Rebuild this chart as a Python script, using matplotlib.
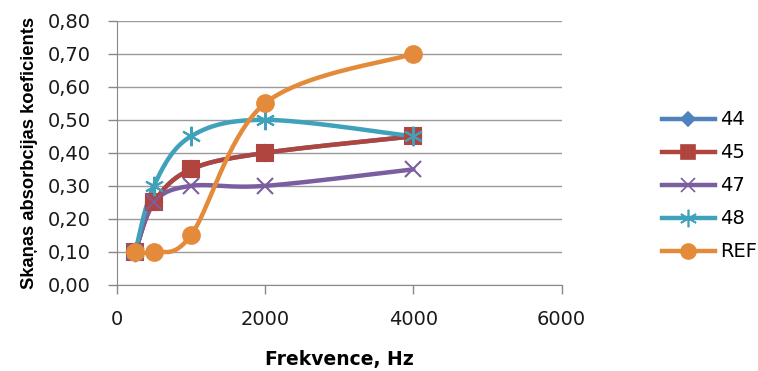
import numpy as np
import matplotlib
matplotlib.use('Agg')
import matplotlib.pyplot as plt

plt.rcParams['font.family'] = ['DejaVu Sans']

freq = [250, 500, 1000, 2000, 4000]
s44 = [0.10, 0.25, 0.35, 0.40, 0.45]
s45 = [0.10, 0.25, 0.35, 0.40, 0.45]
s47 = [0.10, 0.25, 0.30, 0.30, 0.35]
s48 = [0.10, 0.30, 0.45, 0.50, 0.45]
ref = [0.10, 0.10, 0.15, 0.55, 0.70]

yticks = np.arange(0, 0.81, 0.1)
xticks = [0, 2000, 4000, 6000]


def smooth(x, y, n=40):
    # Excel-like smoothed line: cubic bezier with catmull-rom control points
    x = np.asarray(x, float)
    y = np.asarray(y, float)
    px, py = [], []
    for i in range(len(x) - 1):
        x0, y0 = (x[i - 1], y[i - 1]) if i > 0 else (x[i], y[i])
        x3, y3 = (x[i + 2], y[i + 2]) if i + 2 < len(x) else (x[i + 1], y[i + 1])
        c1x = x[i] + (x[i + 1] - x0) / 6
        c1y = y[i] + (y[i + 1] - y0) / 6
        c2x = x[i + 1] - (x3 - x[i]) / 6
        c2y = y[i + 1] - (y3 - y[i]) / 6
        t = np.linspace(0, 1, n)
        bx = (1 - t) ** 3 * x[i] + 3 * (1 - t) ** 2 * t * c1x + 3 * (1 - t) * t ** 2 * c2x + t ** 3 * x[i + 1]
        by = (1 - t) ** 3 * y[i] + 3 * (1 - t) ** 2 * t * c1y + 3 * (1 - t) * t ** 2 * c2y + t ** 3 * y[i + 1]
        px.extend(bx)
        py.extend(by)
    return np.array(px), np.array(py)


series = [
    ('44', s44, '#4F81BD', 'D', 8),
    ('45', s45, '#B0443F', 's', 11),
    ('47', s47, '#7B5EA0', 'x', 11),
    ('48', s48, '#3FA1BA', (6, 2, 0), 14),
    ('REF', ref, '#E38B3B', 'o', 12),
]

fig = plt.figure(figsize=(7.58, 3.71), dpi=100)
ax = fig.add_axes([0.154, 0.232, 0.587, 0.712])

for name, vals, col, mk, ms in series:
    sx, sy = smooth(freq, vals)
    ax.plot(sx, sy, color=col, lw=3.2, solid_capstyle='round', zorder=3)
    ax.plot(freq, vals, linestyle='none', marker=mk, markersize=ms, color=col,
            markeredgecolor=col, markeredgewidth=1.5, zorder=4)
    ax.plot([], [], color=col, lw=3.2, marker=mk, markersize=ms * 0.9, markeredgecolor=col,
            markeredgewidth=1.2, label=name)

ax.set_xlim(0, 6000)
ax.set_ylim(0, 0.8)
ax.set_xticks(xticks)
ax.set_yticks(yticks)
ax.set_yticklabels([f'{v:.2f}'.replace('.', ',') for v in yticks])
ax.tick_params(labelsize=14, colors='#888888', length=6.5, width=1, labelcolor='#1a1a1a')
ax.tick_params(axis='x', pad=11.5)
ax.tick_params(axis='y', pad=12)
ax.grid(axis='y', color='#9a9a9a', lw=1)
ax.set_axisbelow(True)
for s in ['top', 'right']:
    ax.spines[s].set_visible(False)
for s in ['left', 'bottom']:
    ax.spines[s].set_color('#888888')

ax.set_xlabel('Frekvence, Hz', fontsize=13.5, fontweight='bold', labelpad=15)
ax.set_ylabel('Skaņas absorbcijas koeficients', fontsize=13.2, fontweight='bold',
              family='Liberation Sans')
ax.yaxis.set_label_coords(-0.178, 0.5)

fig.legend(loc='center left', bbox_to_anchor=(0.873, 0.499), frameon=False,
           fontsize=14, handlelength=2.75, labelspacing=0.72, handletextpad=0.25,
           borderpad=0, borderaxespad=0)

fig.savefig('out.png', dpi=100)
